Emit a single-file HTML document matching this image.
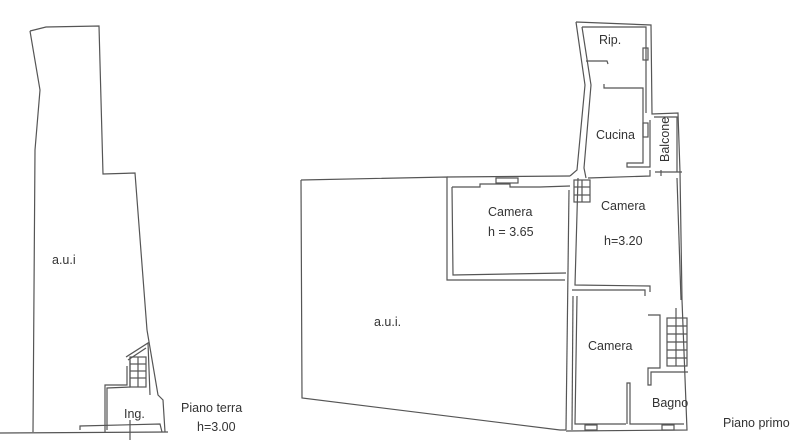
<!DOCTYPE html>
<html><head><style>
html,body{margin:0;padding:0;background:#fff;}
svg{display:block}
text{font-family:"Liberation Sans",sans-serif;fill:#333;font-size:12.5px}
</style></head><body>
<svg width="800" height="446" viewBox="0 0 800 446" xmlns="http://www.w3.org/2000/svg">
<g fill="none" stroke="#555" stroke-width="1.2">
<polyline points="0,433 168,432"/>
<polyline points="30,31 46,27 99,26 103,174 135,173 147,330"/>
<polyline points="30,31 40,90 35,150 33,432"/>
<polyline points="147,330 158,395 163,400 165,432"/>
<polyline points="105,432 105,385 127,385 127,366"/>
<polyline points="107,430 107,388 130,387 130,360"/>
<polyline points="126,357 148,343 150,395"/>
<polyline points="128,360 146,348"/>
<rect x="130" y="357" width="16" height="30"/>
<line x1="130" y1="364" x2="146" y2="364"/><line x1="130" y1="371" x2="146" y2="371"/><line x1="130" y1="378" x2="146" y2="378"/>
<line x1="138" y1="357" x2="138" y2="387"/>
<polyline points="80,430 80,426 160,424 162,432"/>
<line x1="130" y1="420" x2="130" y2="440"/>
<polyline points="301,180 447,177 447,280 565,280"/>
<polyline points="301,180 302,398 560,430 566,430"/>
<polyline points="569,190 566,430"/>
<polyline points="452,187 480,187 480,184 510,184 510,187 540,187 570,186"/>
<polyline points="452,187 453,275 566,273"/>
<polyline points="447,177 570,176"/>
<rect x="496" y="178" width="22" height="5"/>
<rect x="574" y="180" width="16" height="22"/>
<line x1="574" y1="187" x2="590" y2="187"/><line x1="574" y1="195" x2="590" y2="195"/><line x1="582" y1="180" x2="582" y2="202"/>
<polyline points="576,22 651,25 652,114 678,113 680,172 682,300 687,430 566,431"/>
<polyline points="582,27 646,27 646,113"/>
<polyline points="576,22 585,85 577,170 570,176"/>
<polyline points="582,27 591,85 584,168 586,178"/>
<polyline points="586,61 607,61 608,64"/>
<polyline points="604,84 604,88 610,88 643,88 643,163 627,163 627,167 650,167 650,120"/>
<rect x="643" y="48" width="5" height="12"/>
<rect x="643" y="123" width="5" height="14"/>
<polyline points="654,117 677,117 677,172"/>
<line x1="661" y1="170" x2="661" y2="176"/>
<line x1="655" y1="172" x2="682" y2="172"/>
<polyline points="578,178 575,285 650,286 650,292"/>
<polyline points="588,178 650,176 650,170"/>
<polyline points="677,178 681,300"/>
<polyline points="572,290 645,290 645,296"/>
<polyline points="573,296 572,430"/>
<polyline points="577,296 575,424 626,424"/>
<polyline points="648,315 660,315 660,368 648,368 648,385 651,385 651,372 688,372"/>
<rect x="667" y="318" width="20" height="48"/>
<line x1="667" y1="326" x2="687" y2="326"/><line x1="667" y1="334" x2="687" y2="334"/><line x1="667" y1="342" x2="687" y2="342"/><line x1="667" y1="350" x2="687" y2="350"/><line x1="667" y1="358" x2="687" y2="358"/>
<line x1="676" y1="308" x2="676" y2="366"/>
<polyline points="627,424 627,383 630,383 630,424 684,424"/>
<rect x="585" y="425" width="12" height="5"/>
<rect x="662" y="425" width="12" height="5"/>
</g>
<text x="52" y="264">a.u.i</text>
<text x="124" y="418">Ing.</text>
<text x="181" y="412">Piano terra</text>
<text x="197" y="431">h=3.00</text>
<text x="374" y="326">a.u.i.</text>
<text x="488" y="216">Camera</text>
<text x="488" y="236">h = 3.65</text>
<text x="601" y="210">Camera</text>
<text x="604" y="245">h=3.20</text>
<text x="599" y="44">Rip.</text>
<text x="596" y="139">Cucina</text>
<text x="0" y="0" transform="translate(669,162) rotate(-90)">Balcone</text>
<text x="588" y="350">Camera</text>
<text x="652" y="407">Bagno</text>
<text x="723" y="427">Piano primo</text>
</svg>
</body></html>
